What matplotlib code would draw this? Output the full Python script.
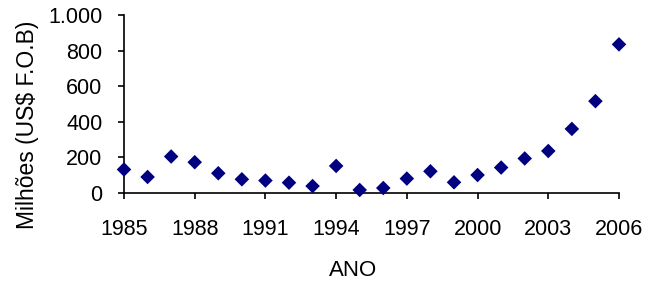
import matplotlib
matplotlib.use("Agg")
import matplotlib.pyplot as plt
from matplotlib.ticker import FuncFormatter

plt.rcParams['font.family'] = ['Liberation Sans', 'DejaVu Sans']

years = list(range(1985, 2007))
values = [132, 90, 205, 173, 111, 77, 70, 58, 39, 152, 17,
          28, 81, 122, 60, 101, 143, 194, 236, 360, 516, 835]
xticks = [1985, 1988, 1991, 1994, 1997, 2000, 2003, 2006]
yticks = [0, 200, 400, 600, 800, 1000]

W, H = 647, 283
fig = plt.figure(figsize=(W/100, H/100), dpi=100)
ax = fig.add_axes([124/W, 1-193/H, (619-124)/W, (193-15)/H])
ax.scatter(years, values, marker='D', s=55, color='#000080', edgecolors='none', clip_on=False, zorder=3)
ax.set_xlim(1985, 2006)
ax.set_ylim(0, 1000)
ax.set_xticks(xticks)
ax.set_yticks(yticks)
ax.yaxis.set_major_formatter(FuncFormatter(lambda v, p: f"{int(v):,}".replace(",", ".")))
for s in ['top', 'right']:
    ax.spines[s].set_visible(False)
for s in ['left', 'bottom']:
    ax.spines[s].set_linewidth(1.2)
ax.tick_params(axis='both', direction='out', length=4.5, width=1.2, labelsize=15.5, colors='black')
ax.tick_params(axis='x', pad=14)
ax.tick_params(axis='y', pad=11)
fig.text(28/W, 1-125/H, 'Milhões (US$ F.O.B)', rotation=90, ha='center', va='center', fontsize=16.5)
fig.text(353/W, 1-270/H, 'ANO', ha='center', va='center', fontsize=16)
fig.savefig('out.png', dpi=100)
